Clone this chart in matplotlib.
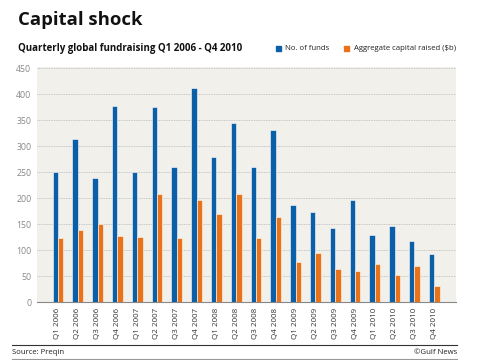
import matplotlib.pyplot as plt
import numpy as np

# Quarterly global fundraising data
quarters = ['Q1 2006', 'Q2 2006', 'Q3 2006', 'Q4 2006',
            'Q1 2007', 'Q2 2007', 'Q3 2007', 'Q4 2007',
            'Q1 2008', 'Q2 2008', 'Q3 2008', 'Q4 2008',
            'Q1 2009', 'Q2 2009', 'Q3 2009', 'Q4 2009',
            'Q1 2010', 'Q2 2010', 'Q3 2010', 'Q4 2010']
num_funds = [250, 314, 238, 377, 250, 375, 261, 413, 280, 345,
             261, 332, 186, 173, 142, 196, 130, 147, 117, 92]
capital_raised = [123, 139, 150, 128, 125, 209, 123, 197, 170, 209,
                  123, 164, 78, 95, 63, 60, 74, 53, 69, 31]
yticks = [0, 50, 100, 150, 200, 250, 300, 350, 400, 450]

BLUE = '#0a5fa6'
ORANGE = '#e8731a'
GREY = '#888888'

plt.rcParams['font.family'] = ['Open Sans', 'DejaVu Sans']

fig = plt.figure(figsize=(4.8, 3.6), dpi=100)
ax = fig.add_axes([0.077, 0.161, 0.873, 0.652])
ax.set_facecolor('#f1f0eb')

x = np.arange(len(quarters))
w = 0.27
ax.bar(x - w / 2, num_funds, w, color=BLUE, edgecolor='white', linewidth=0.4, zorder=3)
ax.bar(x + w / 2, capital_raised, w, color=ORANGE, edgecolor='white', linewidth=0.4, zorder=3)

ax.set_xlim(-1.06, 20.1)
ax.set_ylim(0, 452)
ax.set_yticks(yticks)
ax.set_xticks(x)
ax.set_xticklabels(quarters, rotation=90, fontsize=5.8, color='#333333')
ax.tick_params(axis='y', length=0, labelsize=6.3, labelcolor=GREY, pad=4)
ax.tick_params(axis='x', length=0, pad=4)
ax.grid(axis='y', linestyle=(0, (1, 1)), color='#b8b8b8', linewidth=0.6, zorder=0)
for s in ['top', 'right', 'left']:
    ax.spines[s].set_visible(False)
ax.spines['bottom'].set_color('#888888')
ax.spines['bottom'].set_linewidth(0.8)

# titles
fig.text(0.0375, 0.945, 'Capital shock', fontsize=13.3, fontweight='bold', va='center', color='#111111')
fig.text(0.0375, 0.865, 'Quarterly global fundraising Q1 2006 - Q4 2010', fontsize=7,
         fontweight='bold', va='center', color='#111111')

# legend
fig.patches.append(plt.Rectangle((0.574, 0.857), 0.011, 0.015, color=BLUE, transform=fig.transFigure))
fig.text(0.593, 0.865, 'No. of funds', fontsize=5.6, va='center', color='#222222')
fig.patches.append(plt.Rectangle((0.717, 0.857), 0.011, 0.015, color=ORANGE, transform=fig.transFigure))
fig.text(0.737, 0.865, 'Aggregate capital raised ($b)', fontsize=5.6, va='center', color='#222222')

# footer
fig.add_artist(plt.Line2D([0.025, 0.952], [0.042, 0.042], color='#333333', linewidth=0.8))
fig.add_artist(plt.Line2D([0.025, 0.952], [0.003, 0.003], color='#999999', linewidth=0.8))
fig.text(0.025, 0.022, 'Source: Preqin', fontsize=5.6, va='center', color='#222222')
fig.text(0.952, 0.022, '\u00a9Gulf News', fontsize=5.6, va='center', ha='right', color='#222222')

fig.savefig('out.png', dpi=100)
